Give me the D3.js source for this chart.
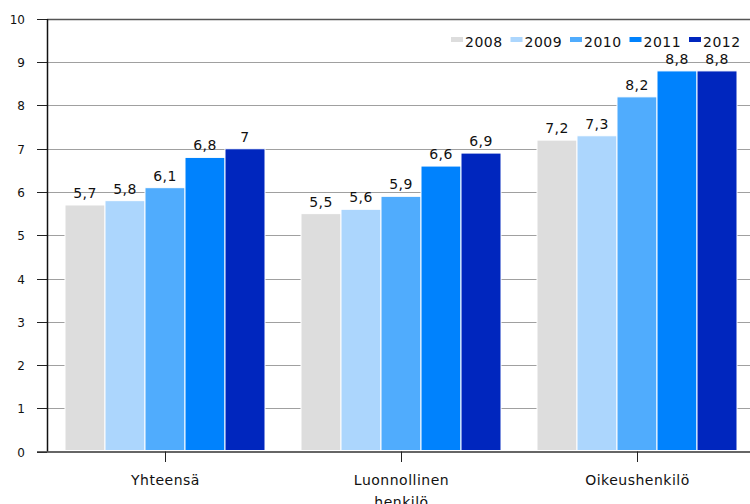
<!DOCTYPE html>
<html>
<head>
<meta charset="utf-8">
<script src="https://cdn.jsdelivr.net/npm/d3@7"></script>
<style>
  body { margin: 0; background: #fff; }
  svg { display: block; font-family: "DejaVu Sans", sans-serif; }
</style>
</head>
<body>
<svg id="chart" width="750" height="504"></svg>
<script>
// chart data
var categories = ["Yhteensä", "Luonnollinen henkilö", "Oikeushenkilö"];
var years = ["2008", "2009", "2010", "2011", "2012"];
var values2008 = [5.7, 5.5, 7.2];
var values2009 = [5.8, 5.6, 7.3];
var values2010 = [6.1, 5.9, 8.2];
var values2011 = [6.8, 6.6, 8.8];
var values2012 = [7.0, 6.9, 8.8];
var yTicks = [0, 1, 2, 3, 4, 5, 6, 7, 8, 9, 10];
var colors = ["#dddddd", "#acd6fd", "#50acfd", "#0082fd", "#0026be"];

var series = [values2008, values2009, values2010, values2011, values2012];

var svg = d3.select("#chart");

// plot area (names avoid window.top)
var plotLeft = 47, plotRight = 755, plotTop = 19, plotBottom = 451.5;

var y = d3.scaleLinear().domain([0, 10]).range([plotBottom, plotTop]);

var x0 = d3.scaleBand().domain(categories).range([plotLeft, plotRight])
  .paddingInner(0.1525).paddingOuter(0.07625);

var x1 = d3.scaleBand().domain(years).range([0, x0.bandwidth()]);

var fmt = function (v) { return String(v).replace(".", ","); };

/* gridlines */
svg.append("g").selectAll("line").data(yTicks.filter(function (d) { return d > 0; }))
  .enter().append("line")
  .attr("x1", plotLeft).attr("x2", 750)
  .attr("y1", function (d) { return Math.round(y(d)) + 0.5; })
  .attr("y2", function (d) { return Math.round(y(d)) + 0.5; })
  .attr("stroke", function (d) { return d === 10 ? "#555" : "#a0a0a0"; })
  .attr("stroke-width", function (d) { return d === 10 ? 1.5 : 1; });

/* y axis ticks and labels */
var yt = svg.append("g").selectAll("g").data(yTicks).enter().append("g")
  .attr("transform", function (d) { return "translate(0," + (Math.round(y(d)) + 0.5) + ")"; });
yt.append("line").attr("x1", 37).attr("x2", plotLeft).attr("stroke", "#222");
yt.append("text").attr("x", 25).attr("dy", "0.36em").attr("text-anchor", "end")
  .attr("font-size", 12).attr("fill", "#111").text(function (d) { return d; });

/* bars */
var groups = svg.append("g").selectAll("g").data(categories).enter().append("g")
  .attr("transform", function (d) { return "translate(" + x0(d) + ",0)"; });

groups.each(function (cat, ci) {
  var g = d3.select(this);
  var rows = years.map(function (yr, si) { return { year: yr, value: series[si][ci], color: colors[si] }; });

  g.selectAll("rect").data(rows).enter().append("rect")
    .attr("x", function (d) { return x1(d.year); })
    .attr("y", function (d) { return y(d.value); })
    .attr("width", x1.bandwidth())
    .attr("height", function (d) { return plotBottom - 1 - y(d.value); })
    .attr("fill", function (d) { return d.color; })
    .attr("stroke", "#fff").attr("stroke-width", 1);

  g.selectAll("text").data(rows).enter().append("text")
    .attr("x", function (d) { return x1(d.year) + x1.bandwidth() / 2; })
    .attr("y", function (d) { return y(d.value) - 7; })
    .attr("text-anchor", "middle").attr("font-size", 14).attr("letter-spacing", 0.4)
    .attr("fill", "#111")
    .text(function (d) { return fmt(d.value); });
});

/* y axis line */
svg.append("line").attr("x1", plotLeft + 0.5).attr("x2", plotLeft + 0.5)
  .attr("y1", plotTop).attr("y2", plotBottom).attr("stroke", "#111").attr("stroke-width", 1.5);

/* x axis */
svg.append("line").attr("x1", 37).attr("x2", 750)
  .attr("y1", plotBottom + 0.5).attr("y2", plotBottom + 0.5).attr("stroke", "#333").attr("stroke-width", 1.5);

var xt = svg.append("g").selectAll("g").data(categories).enter().append("g")
  .attr("transform", function (d) { return "translate(" + (Math.round(x0(d) + x0.bandwidth() / 2) + 0.5) + ",0)"; });
xt.append("line").attr("y1", plotBottom).attr("y2", 462).attr("stroke", "#222");
xt.append("text").attr("text-anchor", "middle").attr("font-size", 14).attr("letter-spacing", 0.5)
  .attr("fill", "#111")
  .each(function (d) {
    var words = d.split(" ");
    var t = d3.select(this);
    words.forEach(function (w, i) {
      t.append("tspan").attr("x", 0).attr("y", 485 + i * 22).text(w);
    });
  });

/* legend */
var leg = svg.append("g").selectAll("g").data(years).enter().append("g")
  .attr("transform", function (d, i) { return "translate(" + (451 + i * 59.5) + ",0)"; });
leg.append("rect").attr("x", 0).attr("y", 37).attr("width", 12).attr("height", 5)
  .attr("fill", function (d, i) { return colors[i]; });
leg.append("text").attr("x", 14).attr("y", 47).attr("font-size", 14).attr("letter-spacing", 0.5)
  .attr("fill", "#111").text(function (d) { return d; });
</script>
</body>
</html>
